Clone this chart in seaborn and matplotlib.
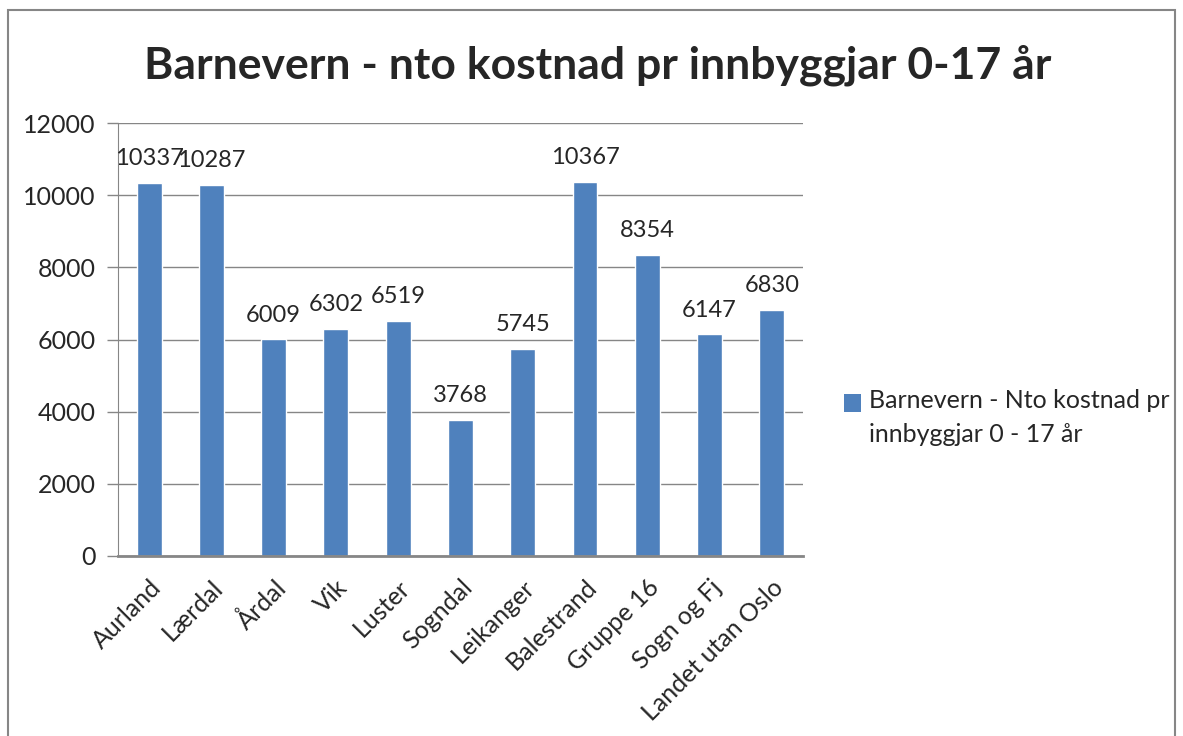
import matplotlib
matplotlib.use("Agg")
import matplotlib.pyplot as plt
import seaborn as sns
import pandas as pd
from matplotlib.patches import Rectangle, Patch
from matplotlib.legend_handler import HandlerPatch

kommunar = ["Aurland", "Lærdal", "Årdal", "Vik", "Luster", "Sogndal",
            "Leikanger", "Balestrand", "Gruppe 16", "Sogn og Fj",
            "Landet utan Oslo"]
kostnad = [10337, 10287, 6009, 6302, 6519, 3768, 5745, 10367, 8354, 6147, 6830]
serie_namn = "Barnevern - Nto kostnad pr\ninnbyggjar 0 - 17 år"
tittel = "Barnevern - nto kostnad pr innbyggjar 0-17 år"
y_ticks = [0, 2000, 4000, 6000, 8000, 10000, 12000]

sns.set_style("white")
plt.rcParams["font.family"] = ["Lato", "DejaVu Sans"]

blue = "#4F81BD"
grey = "#868686"
fs = 18

df = pd.DataFrame({"kommune": kommunar, "kostnad": kostnad})

fig = plt.figure(figsize=(11.83, 7.36), dpi=100)
ax = fig.add_axes([0.0997, 0.2446, 0.579, 0.588])

sns.barplot(data=df, x="kommune", y="kostnad", color=blue, width=0.4,
            saturation=1, ax=ax)

ax.set_ylim(0, 12000)
ax.set_xlim(-0.5, len(kommunar) - 0.5)
ax.set_yticks(y_ticks)
ax.set_yticklabels([str(v) for v in y_ticks], fontsize=fs)
ax.yaxis.grid(True, color=grey, linewidth=1)
ax.set_axisbelow(True)
ax.set_xlabel("")
ax.set_ylabel("")

# x tick marks sit between the categories
ax.set_xticks(range(len(kommunar)))
ax.set_xticklabels(kommunar, rotation=45, ha="right", rotation_mode="anchor",
                   fontsize=fs)
ax.set_xticks([i - 0.5 for i in range(len(kommunar) + 1)], minor=True)
ax.tick_params(axis="x", which="major", length=0, pad=14)
ax.tick_params(axis="x", which="minor", length=7, color=grey, width=1.2)
ax.tick_params(axis="y", length=8, color=grey, width=1, pad=8, left=True)

for s in ["top", "right"]:
    ax.spines[s].set_visible(False)
ax.spines["left"].set_color(grey)
ax.spines["bottom"].set_color(grey)
ax.spines["bottom"].set_linewidth(2)

for i, v in enumerate(kostnad):
    ax.text(i, v + 380, str(v), ha="center", va="bottom", fontsize=17)

fig.text(0.505, 0.912, tittel, ha="center", va="center", fontsize=32,
         fontweight="bold")


# legend square sits beside the first line of the label
def top_square(legend, orig_handle, xdescent, ydescent, width, height, fontsize):
    return Rectangle((-xdescent, -ydescent + 11), width, height)


ax.legend(handles=[Patch(facecolor=blue, edgecolor="none")],
          labels=[serie_namn], loc="center left",
          bbox_to_anchor=(1.045, 0.32), frameon=False, fontsize=fs,
          handlelength=0.7, handleheight=0.7, handletextpad=0.3,
          borderaxespad=0,
          handler_map={Patch: HandlerPatch(patch_func=top_square)})
leg = ax.get_legend()
leg.get_texts()[0].set_linespacing(1.55)

fig.patches.append(Rectangle((8 / 1183, -0.1), 1167 / 1183, 1.1 - 10 / 736,
                             transform=fig.transFigure, fill=False,
                             edgecolor=grey, linewidth=1.5))

fig.savefig("out.png", dpi=100)
